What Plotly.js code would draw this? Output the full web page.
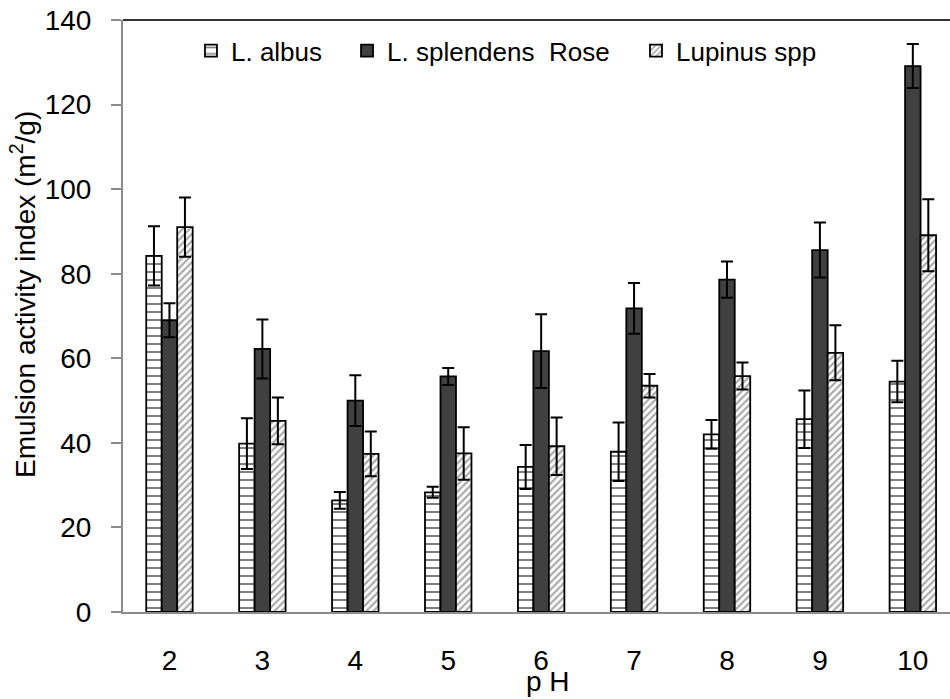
<!DOCTYPE html>
<html>
<head>
<meta charset="utf-8">
<script src="https://cdn.plot.ly/plotly-3.0.1.min.js"></script>
<style>html,body{margin:0;padding:0;background:#fff;}#chart{width:950px;height:699px;}</style>
</head>
<body>
<div id="chart"></div>
<script>
const categories = ['2', '3', '4', '5', '6', '7', '8', '9', '10'];
const seriesNames = ['L. albus', 'L. splendens\u00a0 Rose', 'Lupinus spp'];
const albus = [84.2, 39.8, 26.4, 28.3, 34.3, 37.9, 42.0, 45.6, 54.5];
const albusErr = [7.0, 6.0, 2.0, 1.3, 5.2, 6.9, 3.4, 6.8, 4.9];
const splendens = [69.0, 62.2, 50.0, 55.7, 61.7, 71.8, 78.6, 85.6, 129.1];
const splendensErr = [4.0, 7.0, 6.0, 2.0, 8.7, 6.0, 4.3, 6.5, 5.2];
const lupinus = [91.0, 45.2, 37.4, 37.5, 39.2, 53.5, 55.8, 61.3, 89.1];
const lupinusErr = [7.0, 5.5, 5.3, 6.2, 6.8, 2.8, 3.2, 6.5, 8.5];
const yTicks = [0, 20, 40, 60, 80, 100, 120, 140];
const yTitle = 'Emulsion activity index (m<sup>2</sup>/g)';
const xTitle = 'p H';

const FONT = '"Liberation Sans", Arial, sans-serif';
const errStyle = (arr) => ({type: 'data', array: arr, visible: true, color: '#000', thickness: 2, width: 6});

const traces = [
  {
    type: 'bar', name: seriesNames[0], x: categories, y: albus, legend: 'legend',
    error_y: errStyle(albusErr),
    marker: {color: '#ffffff', line: {color: '#000', width: 1.8},
      pattern: {shape: '-', size: 8, solidity: 0.25, fgcolor: '#000', bgcolor: '#ffffff', fillmode: 'overlay'}}
  },
  {
    type: 'bar', name: seriesNames[1], x: categories, y: splendens, legend: 'legend2',
    error_y: errStyle(splendensErr),
    marker: {color: '#404040', line: {color: '#000', width: 1.8}}
  },
  {
    type: 'bar', name: seriesNames[2], x: categories, y: lupinus, legend: 'legend3',
    error_y: errStyle(lupinusErr),
    marker: {color: '#ffffff', line: {color: '#000', width: 1.8},
      pattern: {shape: '/', size: 5, solidity: 0.45, fgcolor: '#555555', bgcolor: '#ffffff', fillmode: 'overlay'}}
  }
];

const legendBase = {orientation: 'h', xanchor: 'left', yanchor: 'middle', y: 0.948,
  bgcolor: 'rgba(0,0,0,0)', borderwidth: 0, font: {family: FONT, size: 26, color: '#000'}};

const layout = {
  width: 950, height: 699,
  margin: {l: 123, r: 0, t: 20, b: 87},
  paper_bgcolor: '#fff', plot_bgcolor: '#fff',
  font: {family: FONT, color: '#000'},
  barmode: 'group', bargap: 0.5, bargroupgap: 0,
  showlegend: true,
  legend: Object.assign({}, legendBase, {x: 0.0822}),
  legend2: Object.assign({}, legendBase, {x: 0.2709}),
  legend3: Object.assign({}, legendBase, {x: 0.6203}),
  xaxis: {
    type: 'category', range: [-0.5, 8.4],
    showline: true, linecolor: '#8c8c8c', linewidth: 2,
    ticks: '', showgrid: false, zeroline: false,
    tickfont: {family: FONT, size: 28, color: '#000'},
    ticklabelstandoff: 22
  },
  yaxis: {
    range: [0, 140], tickvals: yTicks,
    showline: true, linecolor: '#8c8c8c', linewidth: 2,
    ticks: 'outside', ticklen: 10, tickwidth: 2, tickcolor: '#8c8c8c',
    showgrid: false, zeroline: false,
    tickfont: {family: FONT, size: 28, color: '#000'},
    ticklabelstandoff: 14
  },
  shapes: [
    {type: 'line', xref: 'paper', yref: 'paper', x0: 0, x1: 1, y0: 1, y1: 1,
     line: {color: '#333', width: 2}}
  ],
  annotations: [
    {text: yTitle, xref: 'paper', yref: 'paper', x: -0.1209, y: 0.5355,
     xanchor: 'center', yanchor: 'middle', textangle: -90, showarrow: false,
     font: {family: FONT, size: 28, color: '#000'}},
    {text: xTitle, xref: 'paper', yref: 'paper', x: 0.514, y: -0.117,
     xanchor: 'center', yanchor: 'middle', showarrow: false,
     font: {family: FONT, size: 28, color: '#000'}}
  ]
};

Plotly.newPlot('chart', traces, layout, {displayModeBar: false, staticPlot: true});
</script>
</body>
</html>
